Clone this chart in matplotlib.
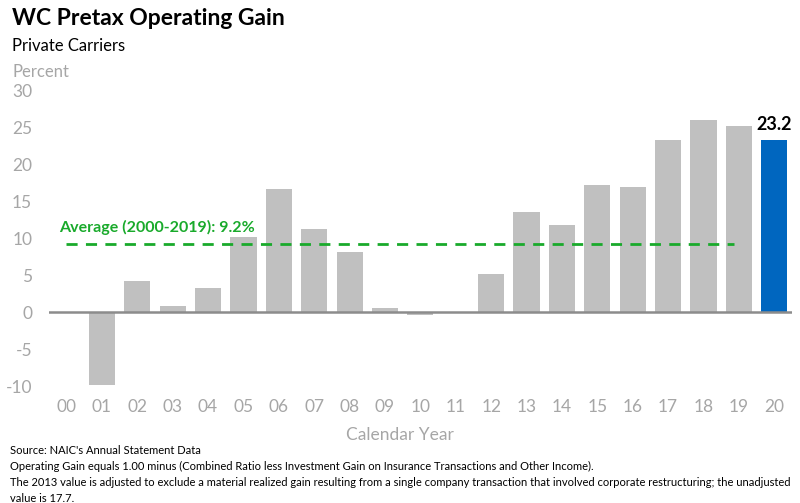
import matplotlib
matplotlib.use("Agg")
import matplotlib.pyplot as plt

plt.rcParams['font.family'] = ['Lato', 'DejaVu Sans']
plt.rcParams['axes.unicode_minus'] = False

# data
years = ["00", "01", "02", "03", "04", "05", "06", "07", "08", "09",
         "10", "11", "12", "13", "14", "15", "16", "17", "18", "19", "20"]
gain = [0.0, -9.9, 4.2, 0.8, 3.2, 10.2, 16.6, 11.2, 8.1, 0.5,
        -0.4, 0.0, 5.1, 13.5, 11.7, 17.1, 16.9, 23.3, 26.0, 25.2, 23.2]
average = 9.2
avg_label = "Average (2000-2019): 9.2%"
yticks = [-10, -5, 0, 5, 10, 15, 20, 25, 30]

footnotes = [
    "Source: NAIC's Annual Statement Data",
    "Operating Gain equals 1.00 minus (Combined Ratio less Investment Gain on Insurance Transactions and Other Income).",
    "The 2013 value is adjusted to exclude a material realized gain resulting from a single company transaction that involved corporate restructuring; the unadjusted",
    "value is 17.7.",
]

GREY_BAR = "#C0C0C0"
BLUE = "#0066BF"
GREEN = "#19AA2B"
TICK_GREY = "#A6A6A6"

fig = plt.figure(figsize=(8.0, 5.03), dpi=100)
ax = fig.add_axes([0.061, 0.2326, 0.929, 0.5884])

x = list(range(len(years)))
colors = [GREY_BAR] * (len(years) - 1) + [BLUE]
ax.bar(x, gain, width=0.74, color=colors, zorder=2)

# zero baseline
ax.axhline(0, color="#8C8C8C", lw=1.8, zorder=3)

# average line
ax.hlines(average, 0, 18.85, colors=GREEN, linestyles=(0, (4, 3)), lw=2, zorder=4)
ax.text(-0.2, average + 1.2, avg_label, color=GREEN, fontsize=11.5,
        fontweight="bold", ha="left", va="bottom")

# last value label
ax.text(x[-1], gain[-1] + 1.0, f"{gain[-1]:.1f}", ha="center", va="bottom",
        fontsize=13, fontweight="bold", color="black")

ax.set_xlim(-0.5, 20.5)
ax.set_ylim(-10, 30)
ax.set_yticks(yticks)
ax.set_xticks(x)
ax.set_xticklabels(years)
ax.tick_params(axis="both", length=0, labelsize=12.5, colors=TICK_GREY)
ax.tick_params(axis="x", pad=9)
ax.tick_params(axis="y", pad=12)
for s in ax.spines.values():
    s.set_visible(False)

fig.text(0.015, 0.985, "WC Pretax Operating Gain", fontsize=16.5, fontweight="bold",
         ha="left", va="top")
fig.text(0.015, 0.925, "Private Carriers", fontsize=12, ha="left", va="top")
fig.text(0.015, 0.873, "Percent", fontsize=12, color=TICK_GREY, ha="left", va="top")
fig.text(0.5, 0.135, "Calendar Year", fontsize=12.5, color=TICK_GREY, ha="center", va="center")

y0 = 0.104
for i, line in enumerate(footnotes):
    fig.text(0.012, y0 - i * 0.0315, line, fontsize=8, ha="left", va="center")

fig.savefig("out.png", dpi=100)
